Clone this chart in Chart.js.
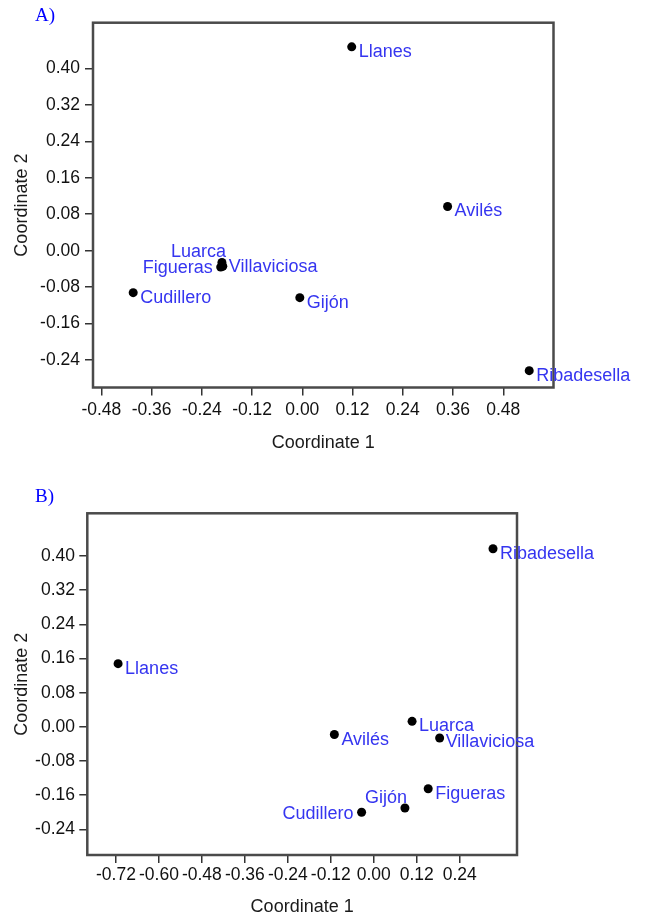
<!DOCTYPE html>
<html>
<head>
<meta charset="utf-8">
<script src="https://cdn.jsdelivr.net/npm/chart.js@4"></script>
<style>
  html, body { margin: 0; padding: 0; background: #fff; overflow: hidden; }
  #page { position: relative; width: 646px; height: 914px; overflow: hidden; }
  canvas { position: absolute; left: 0; }
  #cA { top: 0; }
  #cB { top: 470px; }
  .tag { position: absolute; left: 35px; font: 19px "Liberation Serif", "Times New Roman", serif; color: #0000ff; }
</style>
</head>
<body>
<div id="page">
  <canvas id="cA" width="646" height="470" style="width:646px;height:470px"></canvas>
  <canvas id="cB" width="646" height="470" style="width:646px;height:470px"></canvas>
  <div class="tag" style="top:4px">A)</div>
  <div class="tag" style="top:485px">B)</div>
</div>
<script>
// --- DATA (MDS coordinates) ---
const townsA = ['Llanes', 'Avilés', 'Luarca', 'Figueras', 'Villaviciosa', 'Cudillero', 'Gijón', 'Ribadesella'];
const coord1A = [0.118, 0.347, -0.192, -0.195, -0.190, -0.404, -0.006, 0.542];
const coord2A = [0.447, 0.097, -0.026, -0.036, -0.034, -0.092, -0.103, -0.263];

const townsB = ['Ribadesella', 'Llanes', 'Luarca', 'Villaviciosa', 'Avilés', 'Figueras', 'Gijón', 'Cudillero'];
const coord1B = [0.333, -0.714, 0.107, 0.184, -0.110, 0.152, 0.087, -0.034];
const coord2B = [0.417, 0.148, 0.013, -0.026, -0.018, -0.145, -0.190, -0.200];

const xTicksA = [-0.48, -0.36, -0.24, -0.12, 0.00, 0.12, 0.24, 0.36, 0.48];
const xTicksB = [-0.72, -0.60, -0.48, -0.36, -0.24, -0.12, 0.00, 0.12, 0.24];
const yTicks = [0.40, 0.32, 0.24, 0.16, 0.08, 0.00, -0.08, -0.16, -0.24];

// label placement next to each dot: [dx, dy, textAlign]
const placeA = {
  'Luarca': [4, -11, 'right'],
  'Figueras': [-8, 1, 'right'],
  'Villaviciosa': [6, 1, 'left']
};
const placeB = {
  'Gijón': [2, -10, 'right'],
  'Cudillero': [-8, 2, 'right'],
  'Villaviciosa': [6, 4, 'left']
};

const FONT = '"Liberation Sans", Arial, Helvetica, sans-serif';
const labelBlue = '#3535f0';

// frame round the plot + town names
const pointLabels = {
  id: 'pointLabels',
  beforeDatasetsDraw(chart) {
    const a = chart.chartArea, ctx = chart.ctx;
    ctx.save();
    ctx.strokeStyle = '#4a4a4a';
    ctx.lineWidth = 2.5;
    ctx.strokeRect(a.left, a.top, a.right - a.left, a.bottom - a.top);
    ctx.restore();
  },
  afterDatasetsDraw(chart, args, opts) {
    const meta = chart.getDatasetMeta(0);
    const ctx = chart.ctx;
    ctx.save();
    ctx.font = '18px ' + FONT;
    ctx.fillStyle = labelBlue;
    ctx.textBaseline = 'middle';
    opts.names.forEach((name, i) => {
      const el = meta.data[i];
      const p = opts.place[name] || [7, 5, 'left'];
      ctx.textAlign = p[2];
      ctx.fillText(name, el.x + p[0], el.y + p[1]);
    });
    ctx.restore();
  }
};

function makeChart(id, names, xs, ys, xTicks, box, place) {
  const tickFont = { family: FONT, size: 17.5, lineHeight: 1.2 };
  const titleFont = { family: FONT, size: 18, lineHeight: 1.2 };
  const grid = { drawOnChartArea: false, drawTicks: true, tickLength: 8, color: '#333', lineWidth: 1.5 };

  return new Chart(document.getElementById(id), {
    type: 'scatter',
    data: {
      datasets: [{
        data: names.map((n, i) => ({ x: xs[i], y: ys[i] })),
        backgroundColor: '#000',
        borderWidth: 0,
        pointRadius: 4.5,
        pointHoverRadius: 4.5
      }]
    },
    options: {
      responsive: false,
      animation: false,
      events: [],
      layout: { padding: { top: box.top, right: box.right, left: 0, bottom: 0 } },
      plugins: {
        legend: { display: false },
        tooltip: { enabled: false },
        pointLabels: { names, place }
      },
      scales: {
        x: {
          type: 'linear', min: box.xMin, max: box.xMax,
          afterBuildTicks: s => { s.ticks = xTicks.map(v => ({ value: v })); },
          afterFit: s => { s.height = box.xHeight; },
          ticks: { callback: v => v.toFixed(2), font: tickFont, color: '#111', padding: box.xPad, autoSkip: false, maxRotation: 0 },
          grid, border: { display: false },
          title: { display: true, text: 'Coordinate 1', font: titleFont, color: '#1a1a1a', padding: { top: 0, bottom: box.xTitlePad } }
        },
        y: {
          type: 'linear', min: -0.3, max: 0.5,
          afterBuildTicks: s => { s.ticks = yTicks.map(v => ({ value: v })); },
          afterFit: s => { s.width = box.yWidth; },
          ticks: { callback: v => v.toFixed(2), font: tickFont, color: '#111', padding: box.yPad, autoSkip: false },
          grid, border: { display: false },
          title: { display: true, text: 'Coordinate 2', font: titleFont, color: '#1a1a1a', padding: { top: 11, bottom: 0 } }
        }
      }
    },
    plugins: [pointLabels]
  });
}

makeChart('cA', townsA, coord1A, coord2A, xTicksA,
  { top: 22.7, right: 92.5, xMin: -0.5, xMax: 0.6, xHeight: 82.5, xPad: 4, xTitlePad: 16, yWidth: 93, yPad: 5 }, placeA);

makeChart('cB', townsB, coord1B, coord2B, xTicksB,
  { top: 43.3, right: 129, xMin: -0.8, xMax: 0.4, xHeight: 85, xPad: 1.5, xTitlePad: 22, yWidth: 87.3, yPad: 4.3 }, placeB);
</script>
</body>
</html>
